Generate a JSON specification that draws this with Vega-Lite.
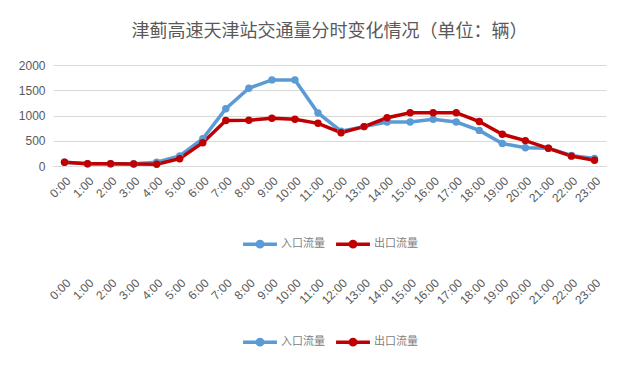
{
  "$schema": "https://vega.github.io/schema/vega-lite/v6.json",
  "padding": {"left": 18, "top": 23, "right": 20, "bottom": 5},
  "background": "white",
  "datasets": {
    "traffic": [
      {"time": "0:00", "series": "入口流量", "value": 75},
      {"time": "1:00", "series": "入口流量", "value": 45},
      {"time": "2:00", "series": "入口流量", "value": 45},
      {"time": "3:00", "series": "入口流量", "value": 45},
      {"time": "4:00", "series": "入口流量", "value": 75},
      {"time": "5:00", "series": "入口流量", "value": 200},
      {"time": "6:00", "series": "入口流量", "value": 540},
      {"time": "7:00", "series": "入口流量", "value": 1135},
      {"time": "8:00", "series": "入口流量", "value": 1540},
      {"time": "9:00", "series": "入口流量", "value": 1705},
      {"time": "10:00", "series": "入口流量", "value": 1705},
      {"time": "11:00", "series": "入口流量", "value": 1050},
      {"time": "12:00", "series": "入口流量", "value": 690},
      {"time": "13:00", "series": "入口流量", "value": 780},
      {"time": "14:00", "series": "入口流量", "value": 870},
      {"time": "15:00", "series": "入口流量", "value": 870},
      {"time": "16:00", "series": "入口流量", "value": 925},
      {"time": "17:00", "series": "入口流量", "value": 870},
      {"time": "18:00", "series": "入口流量", "value": 705},
      {"time": "19:00", "series": "入口流量", "value": 445},
      {"time": "20:00", "series": "入口流量", "value": 360},
      {"time": "21:00", "series": "入口流量", "value": 350},
      {"time": "22:00", "series": "入口流量", "value": 210},
      {"time": "23:00", "series": "入口流量", "value": 150},
      {"time": "0:00", "series": "出口流量", "value": 75},
      {"time": "1:00", "series": "出口流量", "value": 45},
      {"time": "2:00", "series": "出口流量", "value": 45},
      {"time": "3:00", "series": "出口流量", "value": 40},
      {"time": "4:00", "series": "出口流量", "value": 35},
      {"time": "5:00", "series": "出口流量", "value": 145},
      {"time": "6:00", "series": "出口流量", "value": 462},
      {"time": "7:00", "series": "出口流量", "value": 900},
      {"time": "8:00", "series": "出口流量", "value": 905},
      {"time": "9:00", "series": "出口流量", "value": 945},
      {"time": "10:00", "series": "出口流量", "value": 925},
      {"time": "11:00", "series": "出口流量", "value": 845},
      {"time": "12:00", "series": "出口流量", "value": 660},
      {"time": "13:00", "series": "出口流量", "value": 780},
      {"time": "14:00", "series": "出口流量", "value": 955},
      {"time": "15:00", "series": "出口流量", "value": 1055},
      {"time": "16:00", "series": "出口流量", "value": 1055},
      {"time": "17:00", "series": "出口流量", "value": 1055},
      {"time": "18:00", "series": "出口流量", "value": 880},
      {"time": "19:00", "series": "出口流量", "value": 628},
      {"time": "20:00", "series": "出口流量", "value": 503},
      {"time": "21:00", "series": "出口流量", "value": 350},
      {"time": "22:00", "series": "出口流量", "value": 195},
      {"time": "23:00", "series": "出口流量", "value": 115}
    ]
  },
  "config": {
    "view": {"stroke": null},
    "font": "Liberation Sans",
    "axis": {"labelColor": "#595959", "ticks": false, "title": null},
    "legend": {
      "orient": "bottom",
      "direction": "horizontal",
      "title": null,
      "layout": {"bottom": {"anchor": "middle"}},
      "labelFont": "Noto Sans CJK SC",
      "labelFontSize": 11,
      "labelColor": "#808080",
      "symbolType": "M-1,0H1M-0.16,0A0.16,0.16,0,1,1,0.16,0A0.16,0.16,0,1,1,-0.16,0Z",
      "symbolSize": 1150,
      "symbolStrokeWidth": 3.5,
      "symbolOpacity": 1,
      "columnPadding": 4,
      "labelOffset": 2
    }
  },
  "resolve": {"legend": {"color": "independent"}, "scale": {"y": "independent"}},
  "spacing": 13,
  "vconcat": [
    {
      "width": 553,
      "height": 101,
      "title": {
        "text": "津蓟高速天津站交通量分时变化情况（单位：辆）",
        "font": "Noto Sans CJK SC",
        "fontSize": 18,
        "fontWeight": "normal",
        "color": "#595959",
        "offset": 18
      },
      "data": {"name": "traffic"},
      "encoding": {
        "x": {
          "field": "time",
          "type": "ordinal",
          "sort": null,
          "scale": {"type": "point", "padding": 0.5},
          "axis": {"labelAngle": -45, "labelFontSize": 12, "domainColor": "#D9D9D9", "labelPadding": 9}
        },
        "y": {
          "field": "value",
          "type": "quantitative",
          "scale": {"domain": [0, 2000], "nice": false},
          "axis": {"values": [0, 500, 1000, 1500, 2000], "format": "d", "domain": false, "gridColor": "#D9D9D9", "labelFontSize": 12, "labelPadding": 8}
        },
        "color": {
          "field": "series",
          "type": "nominal",
          "scale": {"domain": ["入口流量", "出口流量"], "range": ["#5B9BD5", "#C00000"]},
          "legend": {"offset": 20}
        }
      },
      "layer": [
        {"mark": {"type": "line", "strokeWidth": 3.5}},
        {"mark": {"type": "point", "filled": true, "size": 55, "opacity": 1}}
      ]
    },
    {
      "width": 553,
      "height": 1,
      "data": {"name": "traffic"},
      "encoding": {
        "x": {
          "field": "time",
          "type": "ordinal",
          "sort": null,
          "scale": {"type": "point", "padding": 0.5},
          "axis": {"labelAngle": -45, "labelFontSize": 12, "domain": false, "labelPadding": 9}
        },
        "y": {
          "field": "value",
          "type": "quantitative",
          "scale": {"domain": [5000, 6000]},
          "axis": null
        },
        "color": {
          "field": "series",
          "type": "nominal",
          "scale": {"domain": ["入口流量", "出口流量"], "range": ["#5B9BD5", "#C00000"]},
          "legend": {"offset": 16, "symbolOpacity": 1}
        }
      },
      "layer": [
        {"mark": {"type": "line", "strokeWidth": 3.5, "clip": true, "opacity": 0}},
        {"mark": {"type": "point", "filled": true, "size": 55, "opacity": 0, "clip": true}}
      ]
    }
  ]
}
